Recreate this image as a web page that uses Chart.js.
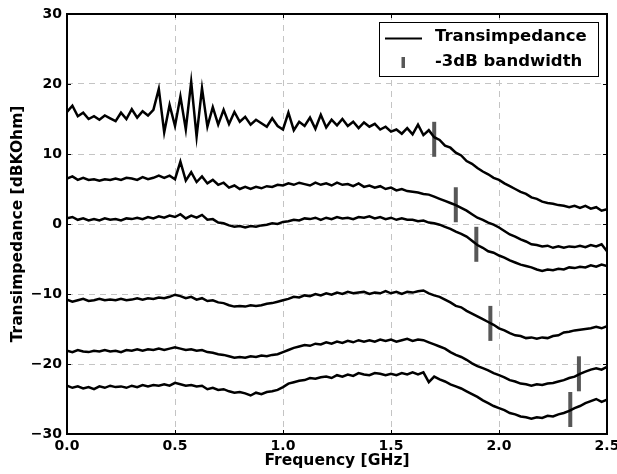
<!DOCTYPE html>
<html>
<head>
<meta charset="utf-8">
<script src="https://cdn.jsdelivr.net/npm/chart.js@4.4.1/dist/chart.umd.min.js"></script>
<style>
  body { margin: 0; background: #fff; overflow: hidden; }
  #wrap { width: 617px; height: 474px; }
</style>
</head>
<body>
<div id="wrap"><canvas id="myChart" width="617" height="474"></canvas></div>
<script>
// frequency grid of the measurement [GHz]
const freqGHz = [
  0, 0.025, 0.05, 0.075, 0.1, 0.125, 0.15, 0.175, 0.2, 0.225,
  0.25, 0.275, 0.3, 0.325, 0.35, 0.375, 0.4, 0.425, 0.45, 0.475,
  0.5, 0.525, 0.55, 0.575, 0.6, 0.625, 0.65, 0.675, 0.7, 0.725,
  0.75, 0.775, 0.8, 0.825, 0.85, 0.875, 0.9, 0.925, 0.95, 0.975,
  1.0, 1.025, 1.05, 1.075, 1.1, 1.125, 1.15, 1.175, 1.2, 1.225,
  1.25, 1.275, 1.3, 1.325, 1.35, 1.375, 1.4, 1.425, 1.45, 1.475,
  1.5, 1.525, 1.55, 1.575, 1.6, 1.625, 1.65, 1.675, 1.7, 1.725,
  1.75, 1.775, 1.8, 1.825, 1.85, 1.875, 1.9, 1.925, 1.95, 1.975,
  2.0, 2.025, 2.05, 2.075, 2.1, 2.125, 2.15, 2.175, 2.2, 2.225,
  2.25, 2.275, 2.3, 2.325, 2.35, 2.375, 2.4, 2.425, 2.45, 2.475,
  2.5
];

// transimpedance curves [dBKOhm], top to bottom
const curve1 = [
  16.0, 16.9, 15.4, 15.9, 15.0, 15.4, 14.9, 15.5, 15.1, 14.7,
  15.9, 15.0, 16.4, 15.2, 16.1, 15.5, 16.3, 19.3, 13.1, 17.0,
  14.0, 18.2, 13.5, 20.3, 12.5, 19.4, 13.9, 16.7, 14.2, 16.3,
  14.3, 16.0, 14.6, 15.3, 14.2, 14.9, 14.4, 13.9, 15.1, 14.0,
  13.5, 15.9, 13.4, 14.6, 14.0, 15.2, 13.6, 15.6, 13.8, 14.9,
  14.1, 15.0, 14.0, 14.6, 13.7, 14.5, 13.9, 14.3, 13.5, 13.9,
  13.2, 13.5, 12.9, 13.7, 12.8, 14.2, 12.7, 13.4, 12.4, 12.0,
  11.2, 10.9, 10.2, 9.8, 9.0, 8.6, 8.0, 7.5, 7.1, 6.6,
  6.3, 5.8, 5.4, 5.0, 4.6, 4.3, 3.8, 3.6, 3.2, 3.0,
  2.9, 2.7, 2.6, 2.4, 2.6, 2.3, 2.6, 2.2, 2.4, 1.9,
  2.1
];
const curve2 = [
  6.5, 6.8, 6.3, 6.6, 6.3, 6.4, 6.2, 6.4, 6.3, 6.5,
  6.3, 6.6, 6.5, 6.3, 6.7, 6.4, 6.6, 6.9, 6.6, 6.9,
  6.4, 8.9, 6.2, 7.4, 6.0, 6.8, 5.8, 6.3, 5.6, 5.9,
  5.2, 5.5, 5.0, 5.3, 5.0, 5.3, 5.1, 5.4, 5.3, 5.6,
  5.5, 5.8, 5.6, 5.9, 5.7, 5.5, 5.9, 5.6, 5.8, 5.5,
  5.9, 5.6, 5.7, 5.4, 5.8, 5.3, 5.5, 5.2, 5.4, 5.0,
  5.2, 4.8, 5.0, 4.7, 4.6, 4.5, 4.3, 4.2, 3.9, 3.6,
  3.3, 3.0, 2.7, 2.3, 1.9, 1.4, 0.9, 0.6, 0.2, -0.1,
  -0.5, -1.0, -1.5, -1.8, -2.2, -2.5, -2.9, -3.0, -3.2, -3.1,
  -3.4, -3.2, -3.4, -3.2, -3.3, -3.1, -3.3, -3.0, -3.2, -2.9,
  -3.9
];
const curve3 = [
  0.8, 1.0, 0.6, 0.8, 0.5, 0.7, 0.5, 0.8, 0.6, 0.7,
  0.5, 0.8, 0.7, 0.9, 0.7, 1.0, 0.8, 1.1, 0.9, 1.2,
  1.0, 1.4, 0.8, 1.2, 0.9, 1.3, 0.6, 0.7, 0.2, 0.1,
  -0.2, -0.4, -0.3, -0.5, -0.3, -0.4, -0.2, -0.1, 0.1, 0.0,
  0.3, 0.4, 0.6, 0.5, 0.8, 0.7, 0.9, 0.6, 0.9, 0.7,
  1.0, 0.8, 0.9, 0.7, 1.0, 0.9, 1.1, 0.8, 1.0, 0.7,
  0.9, 0.6, 0.8, 0.6, 0.6, 0.4, 0.5, 0.2, 0.1, -0.1,
  -0.4, -0.7, -1.1, -1.4, -1.8, -2.4, -3.0, -3.4, -3.9, -4.1,
  -4.5, -4.8, -5.2, -5.5, -5.8, -6.0, -6.2, -6.5, -6.7, -6.5,
  -6.6, -6.4, -6.5, -6.2, -6.3, -6.1, -6.2, -5.9, -6.1, -5.8,
  -6.0
];
const curve4 = [
  -10.8, -11.1, -10.9, -10.7, -11.0, -10.9, -10.7, -10.9, -10.8, -10.9,
  -10.7, -10.9, -10.8, -10.6, -10.8, -10.6, -10.7, -10.5, -10.6, -10.4,
  -10.1, -10.3, -10.6, -10.4, -10.8, -10.6, -11.0, -10.9, -11.2, -11.3,
  -11.6, -11.8, -11.7, -11.8, -11.6, -11.7, -11.6, -11.4, -11.3, -11.1,
  -10.9, -10.7, -10.4, -10.5, -10.2, -10.3, -10.0, -10.2, -9.9, -10.1,
  -9.8, -10.0, -9.7, -9.9, -9.8, -9.7, -10.0, -9.8, -9.9, -9.6,
  -9.9, -9.7, -10.0, -9.7, -9.8, -9.6, -9.5, -9.9, -10.2, -10.4,
  -10.8, -11.2, -11.7, -11.9, -12.4, -12.8, -13.2, -13.6, -14.0, -14.4,
  -14.9, -15.2, -15.6, -15.9, -16.0, -16.3, -16.2, -16.4, -16.2, -16.3,
  -16.0, -15.9, -15.5, -15.4, -15.2, -15.1, -15.0, -14.9, -14.7, -14.9,
  -14.6
];
const curve5 = [
  -18.1, -18.3, -18.0, -18.2, -18.3, -18.1, -18.2, -18.0, -18.2, -18.1,
  -18.3, -18.0, -18.1, -17.9, -18.1, -17.9, -18.0, -17.8, -18.0, -17.8,
  -17.6, -17.8, -18.0, -17.9, -18.1, -18.0, -18.3, -18.4, -18.6, -18.7,
  -18.9, -19.1, -19.0, -19.1, -18.9, -19.0, -18.8, -18.9, -18.7, -18.6,
  -18.3, -18.0, -17.7, -17.5, -17.3, -17.4, -17.1, -17.2, -16.9, -17.1,
  -16.8, -17.0, -16.7, -16.9, -16.6, -16.8, -16.6, -16.8, -16.5, -16.7,
  -16.5, -16.8, -16.6, -16.4, -16.7, -16.5, -16.6, -16.9, -17.2, -17.5,
  -17.8, -18.3, -18.7, -19.0, -19.4, -19.9, -20.3, -20.6, -20.9, -21.3,
  -21.6, -21.9, -22.3, -22.5, -22.8, -22.9, -23.1, -22.9, -23.0, -22.8,
  -22.7, -22.5, -22.3, -22.0, -21.8, -21.4, -21.1, -20.8, -20.6, -20.8,
  -20.4
];
const curve6 = [
  -23.1, -23.4, -23.2, -23.5, -23.3, -23.6, -23.2, -23.4, -23.1, -23.3,
  -23.2, -23.4, -23.1, -23.3, -23.0, -23.2, -23.0, -23.1, -22.9, -23.1,
  -22.7, -22.9, -23.1, -23.0, -23.2, -23.1, -23.6, -23.4, -23.7, -23.6,
  -23.9, -24.1, -24.0, -24.2, -24.5, -24.1, -24.3, -24.0, -23.9, -23.7,
  -23.3, -22.8, -22.6, -22.4, -22.3, -22.0, -22.1, -21.9, -21.8, -22.0,
  -21.6, -21.8, -21.5, -21.7, -21.3, -21.5, -21.6, -21.3, -21.4, -21.6,
  -21.4, -21.6, -21.3, -21.5, -21.2, -21.5, -21.2, -22.6, -21.8, -22.2,
  -22.5, -22.9, -23.2, -23.5, -23.9, -24.3, -24.7, -25.2, -25.6, -26.0,
  -26.3, -26.6, -27.0, -27.2, -27.5, -27.6, -27.8, -27.6, -27.7, -27.4,
  -27.5, -27.2, -27.0, -26.7, -26.3, -26.0, -25.6, -25.3, -25.0, -25.4,
  -25.1
];

// -3dB bandwidth markers, one per curve
const bwFreq = [1.70, 1.80, 1.895, 1.96, 2.37, 2.33];
const bwLevel = [12.1, 2.75, -2.9, -14.2, -21.4, -26.5];

const xTicks = [0, 0.5, 1.0, 1.5, 2.0, 2.5];
const yTicks = [-30, -20, -10, 0, 10, 20, 30];
const legendLabels = ["Transimpedance", "-3dB bandwidth"];

const FONT = "'DejaVu Sans', sans-serif";
const MARK_GREY = "#575757";

const curves = [curve1, curve2, curve3, curve4, curve5, curve6];
const datasets = curves.map((c, k) => ({
  label: k === 0 ? legendLabels[0] : "",
  data: freqGHz.map((f, i) => ({ x: f, y: c[i] })),
  borderColor: "#000",
  borderWidth: 2.5,
  pointRadius: 0,
  tension: 0,
  order: 0,
}));
datasets.push({
  label: legendLabels[1],
  data: bwFreq.map((f, i) => ({ x: f, y: bwLevel[i] })),
  showLine: false,
  pointStyle: "line",
  rotation: 90,
  pointRadius: 17.5,
  pointBorderWidth: 4,
  borderColor: MARK_GREY,
  order: 1,
});

// frame, inward ticks and boxed legend, matplotlib style
const frame = {
  id: "frame",
  afterDatasetsDraw(chart) {
    const { ctx, chartArea: a, scales } = chart;
    ctx.save();
    ctx.strokeStyle = "#000";
    ctx.lineWidth = 1;
    ctx.beginPath();
    xTicks.forEach((v) => {
      const px = Math.round(scales.x.getPixelForValue(v)) + 0.5;
      ctx.moveTo(px, a.top); ctx.lineTo(px, a.top + 4);
      ctx.moveTo(px, a.bottom); ctx.lineTo(px, a.bottom - 4);
    });
    yTicks.forEach((v) => {
      const py = Math.round(scales.y.getPixelForValue(v)) + 0.5;
      ctx.moveTo(a.left, py); ctx.lineTo(a.left + 4, py);
      ctx.moveTo(a.right, py); ctx.lineTo(a.right - 4, py);
    });
    ctx.stroke();
    ctx.lineWidth = 2;
    ctx.strokeRect(a.left, a.top, a.right - a.left, a.bottom - a.top);

    // legend box
    const bx = a.right - 228, by = a.top + 8, bw = 219, bh = 54;
    ctx.fillStyle = "#fff";
    ctx.fillRect(bx, by, bw, bh);
    ctx.lineWidth = 1;
    ctx.strokeRect(bx + 0.5, by + 0.5, bw, bh);
    ctx.lineWidth = 2;
    ctx.beginPath();
    ctx.moveTo(bx + 6, by + 16.5);
    ctx.lineTo(bx + 43, by + 16.5);
    ctx.stroke();
    ctx.fillStyle = MARK_GREY;
    ctx.fillRect(bx + 22.5, by + 35, 3.5, 11);
    ctx.fillStyle = "#000";
    ctx.font = "bold 16.5px " + FONT;
    ctx.textBaseline = "middle";
    ctx.textAlign = "left";
    ctx.fillText(legendLabels[0], bx + 56, by + 15);
    ctx.fillText(legendLabels[1], bx + 56, by + 40);
    ctx.restore();
  },
};

const ctx = document.getElementById("myChart").getContext("2d");

new Chart(ctx, {
  type: "line",
  data: { datasets: datasets },
  options: {
    responsive: false,
    animation: false,
    layout: { autoPadding: false, padding: { left: 0, right: 10, top: 14, bottom: 0 } },
    plugins: {
      legend: { display: false },
      tooltip: { enabled: false },
    },
    scales: {
      x: {
        type: "linear",
        min: 0,
        max: 2.5,
        afterBuildTicks: (s) => { s.ticks = xTicks.map((v) => ({ value: v })); },
        afterFit: (s) => { s.height = 40; s.paddingLeft = 0; s.paddingRight = 0; },
        ticks: {
          color: "#000",
          padding: 4,
          maxRotation: 0,
          font: { family: FONT, size: 14, weight: "bold" },
          callback: (v) => v.toFixed(1),
        },
        grid: { color: "#c4c4c4", lineWidth: 1, drawTicks: false },
        border: { display: false, dash: [6, 5] },
        title: {
          display: true,
          text: "Frequency [GHz]",
          color: "#000",
          padding: { top: 0, bottom: 4 },
          font: { family: FONT, size: 15.5, weight: "bold" },
        },
      },
      y: {
        min: -30,
        max: 30,
        afterBuildTicks: (s) => { s.ticks = yTicks.map((v) => ({ value: v })); },
        afterFit: (s) => { s.width = 67; s.paddingTop = 0; s.paddingBottom = 0; },
        ticks: {
          color: "#000",
          padding: 5,
          font: { family: FONT, size: 14, weight: "bold" },
          callback: (v) => (v < 0 ? "\u2212" + Math.abs(v) : String(v)),
        },
        grid: { color: "#c4c4c4", lineWidth: 1, drawTicks: false },
        border: { display: false, dash: [6, 5] },
        title: {
          display: true,
          text: "Transimpedance [dBKOhm]",
          color: "#000",
          padding: { top: 9, bottom: 0 },
          font: { family: FONT, size: 15.5, weight: "bold" },
        },
      },
    },
  },
  plugins: [frame],
});
</script>
</body>
</html>
